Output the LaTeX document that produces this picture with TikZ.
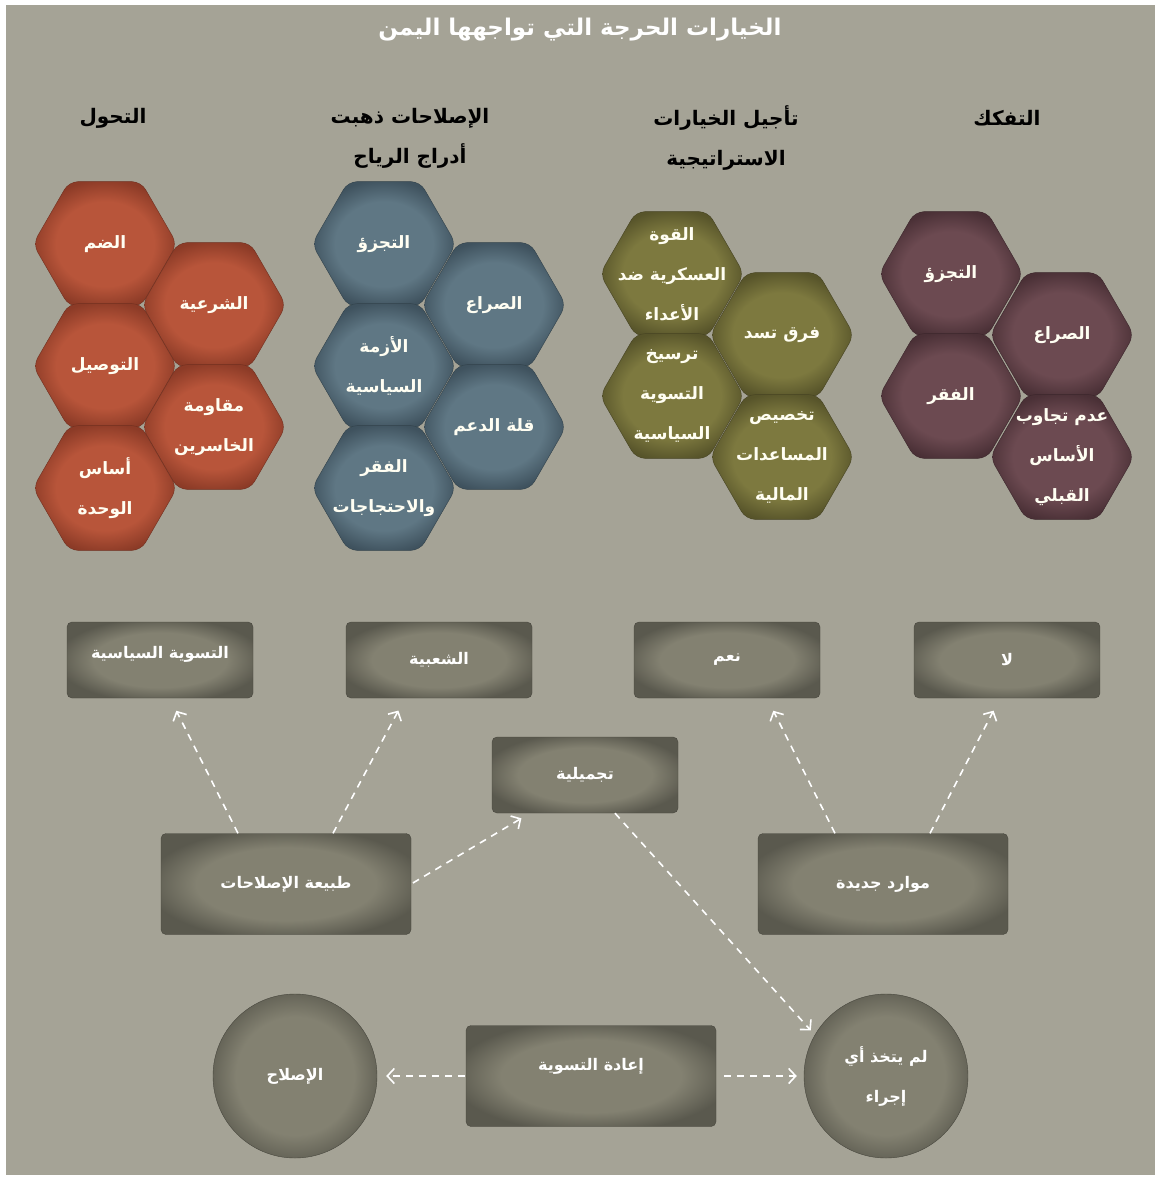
\documentclass[tikz,border=0pt]{standalone}
\usepackage{fontspec}
\newfontfamily\arabicfont[Script=Arabic]{DejaVu Sans}
\TeXXeTstate=1
\usetikzlibrary{arrows.meta,shapes.geometric}

\definecolor{canvas}{HTML}{A5A396}
\definecolor{orangein}{HTML}{B8553A}
\definecolor{orangeout}{HTML}{8C3B27}
\definecolor{bluein}{HTML}{5F7784}
\definecolor{blueout}{HTML}{3F525E}
\definecolor{olivein}{HTML}{7D793F}
\definecolor{oliveout}{HTML}{57542A}
\definecolor{plumin}{HTML}{6C4A51}
\definecolor{plumout}{HTML}{4A3036}
\definecolor{boxin}{HTML}{838171}
\definecolor{boxout}{HTML}{5A594E}

% center light, rim dark (the 25bp circle meets the path's rim)
\pgfdeclareradialshading{orangeshade}{\pgfpointorigin}{color(0bp)=(orangein); color(17bp)=(orangein); color(26bp)=(orangeout); color(50bp)=(orangeout)}
\pgfdeclareradialshading{blueshade}{\pgfpointorigin}{color(0bp)=(bluein); color(17bp)=(bluein); color(26bp)=(blueout); color(50bp)=(blueout)}
\pgfdeclareradialshading{oliveshade}{\pgfpointorigin}{color(0bp)=(olivein); color(17bp)=(olivein); color(26bp)=(oliveout); color(50bp)=(oliveout)}
\pgfdeclareradialshading{plumshade}{\pgfpointorigin}{color(0bp)=(plumin); color(17bp)=(plumin); color(26bp)=(plumout); color(50bp)=(plumout)}
\pgfdeclareradialshading{boxshade}{\pgfpointorigin}{color(0bp)=(boxin); color(18bp)=(boxin); color(28bp)=(boxout); color(50bp)=(boxout)}

\newcommand{\ar}[1]{\beginR #1\endR}
% style, x, y, name, text
\newcommand{\hexcell}[5]{%
  \node[hexrim,#1] (#4) at (#2,#3) {};
  \node[hextext] (#4t) at (#4) {#5};
}

\tikzset{
  hexrim/.style={regular polygon, regular polygon sides=6, minimum size=144pt, inner sep=0pt,
    shade, rounded corners=9pt, line width=0.4pt},
  orangehex/.style={shading=orangeshade, draw=orangeout!80!black},
  bluehex/.style={shading=blueshade, draw=blueout!80!black},
  olivehex/.style={shading=oliveshade, draw=oliveout!80!black},
  plumhex/.style={shading=plumshade, draw=plumout!80!black},
  hextext/.style={align=center, text=white!95!yellow, font=\arabicfont\bfseries\fontsize{17}{40}\selectfont},
  heading/.style={align=center, text=black, font=\arabicfont\bfseries\fontsize{20}{40}\selectfont},
  box/.style={rectangle, rounded corners=5pt, shade, shading=boxshade, draw=boxout!80!black,
    minimum width=186pt, minimum height=76pt, text=white, align=center,
    font=\arabicfont\bfseries\fontsize{16}{40}\selectfont},
  widebox/.style={box, minimum width=250pt, minimum height=101pt},
  disc/.style={box, circle, minimum size=164pt},
  flow/.style={draw=white, line width=1.6pt, dash pattern=on 7pt off 6pt,
    -{Straight Barb[length=7pt,width=15pt]}},
}

\begin{document}
\begin{tikzpicture}[x=1pt,y=-1pt]
  \fill[white] (0,0) rectangle (1160,1178);
  \fill[canvas] (6,5) rectangle (1155,1175);
  \useasboundingbox (0,0) rectangle (1160,1178);

  \node[text=white, font=\arabicfont\bfseries\fontsize{23}{28}\selectfont] (title) at (580,30)
    {\ar{الخيارات الحرجة التي تواجهها اليمن}};

  % column headings
  \node[heading] (shift) at (113,118) {\ar{التحول}};
  \node[heading] (gone) at (410,138) {\ar{الإصلاحات ذهبت}\\\ar{أدراج الرياح}};
  \node[heading] (delay) at (726,138) {\ar{تأجيل الخيارات}\\\ar{الاستراتيجية}};
  \node[heading] (split) at (1007,118) {\ar{التفكك}};

  % hexagon clusters
  \hexcell{orangehex}{105}{244}{oA}{\ar{الضم}}
  \hexcell{orangehex}{214}{305}{oB}{\ar{الشرعية}}
  \hexcell{orangehex}{105}{366}{oC}{\ar{التوصيل}}
  \hexcell{orangehex}{214}{427}{oD}{\ar{مقاومة}\\\ar{الخاسرين}}
  \hexcell{orangehex}{105}{488}{oE}{\ar{أساس}\\\ar{الوحدة}}

  \hexcell{bluehex}{384}{244}{bA}{\ar{التجزؤ}}
  \hexcell{bluehex}{494}{305}{bB}{\ar{الصراع}}
  \hexcell{bluehex}{384}{366}{bC}{\ar{الأزمة}\\\ar{السياسية}}
  \hexcell{bluehex}{494}{427}{bD}{\ar{قلة الدعم}}
  \hexcell{bluehex}{384}{488}{bE}{\ar{الفقر}\\\ar{والاحتجاجات}}

  \hexcell{olivehex}{672}{274}{gA}{\ar{القوة}\\\ar{العسكرية ضد}\\\ar{الأعداء}}
  \hexcell{olivehex}{782}{335}{gB}{\ar{فرق تسد}}
  \hexcell{olivehex}{672}{396}{gC}{\ar{ترسيخ}\\\ar{التسوية}\\\ar{السياسية}}
  \hexcell{olivehex}{782}{457}{gD}{\ar{تخصيص}\\\ar{المساعدات}\\\ar{المالية}}

  \hexcell{plumhex}{951}{274}{pA}{\ar{التجزؤ}}
  \hexcell{plumhex}{1062}{335}{pB}{\ar{الصراع}}
  \hexcell{plumhex}{951}{396}{pC}{\ar{الفقر}}
  \hexcell{plumhex}{1062}{457}{pD}{\ar{عدم تجاوب}\\\ar{الأساس}\\\ar{القبلي}}

  % outcome boxes
  \node[box, text depth=16pt] (pol) at (160,660) {\ar{التسوية السياسية}};
  \node[box] (pop) at (439,660) {\ar{الشعبية}};
  \node[box] (yes) at (727,660) {\ar{نعم}};
  \node[box] (no) at (1007,660) {\ar{لا}};
  \node[box] (cos) at (585,775) {\ar{تجميلية}};
  \node[widebox] (nat) at (286,884) {\ar{طبيعة الإصلاحات}};
  \node[widebox] (res) at (883,884) {\ar{موارد جديدة}};
  \node[widebox, text depth=24pt, minimum height=101pt] (reset) at (591,1076) {\ar{إعادة التسوية}};
  \node[disc] (reform) at (295,1076) {\ar{الإصلاح}};
  \node[disc] (act) at (886,1076) {\ar{لم يتخذ أي}\\\ar{إجراء}};

  % dashed links
  \draw[flow, shorten >=14pt] ([xshift=-48pt]nat.north) -- ([xshift=10pt]pol.south);
  \draw[flow, shorten >=14pt] ([xshift=47pt]nat.north) -- ([xshift=-34pt]pop.south);
  \draw[flow, shorten <=2pt, shorten >=10pt] (nat.east) -- ([xshift=-55pt]cos.south);
  \draw[flow, shorten >=6pt] ([xshift=30pt]cos.south) -- (act.150);
  \draw[flow, shorten >=14pt] ([xshift=-48pt]res.north) -- ([xshift=40pt]yes.south);
  \draw[flow, shorten >=14pt] ([xshift=47pt]res.north) -- ([xshift=-7pt]no.south);
  \draw[flow, shorten <=1pt, shorten >=9pt] (reset.west) -- (reform.east);
  \draw[flow, shorten <=8pt, shorten >=7pt] (reset.east) -- (act.west);
\end{tikzpicture}
\end{document}
